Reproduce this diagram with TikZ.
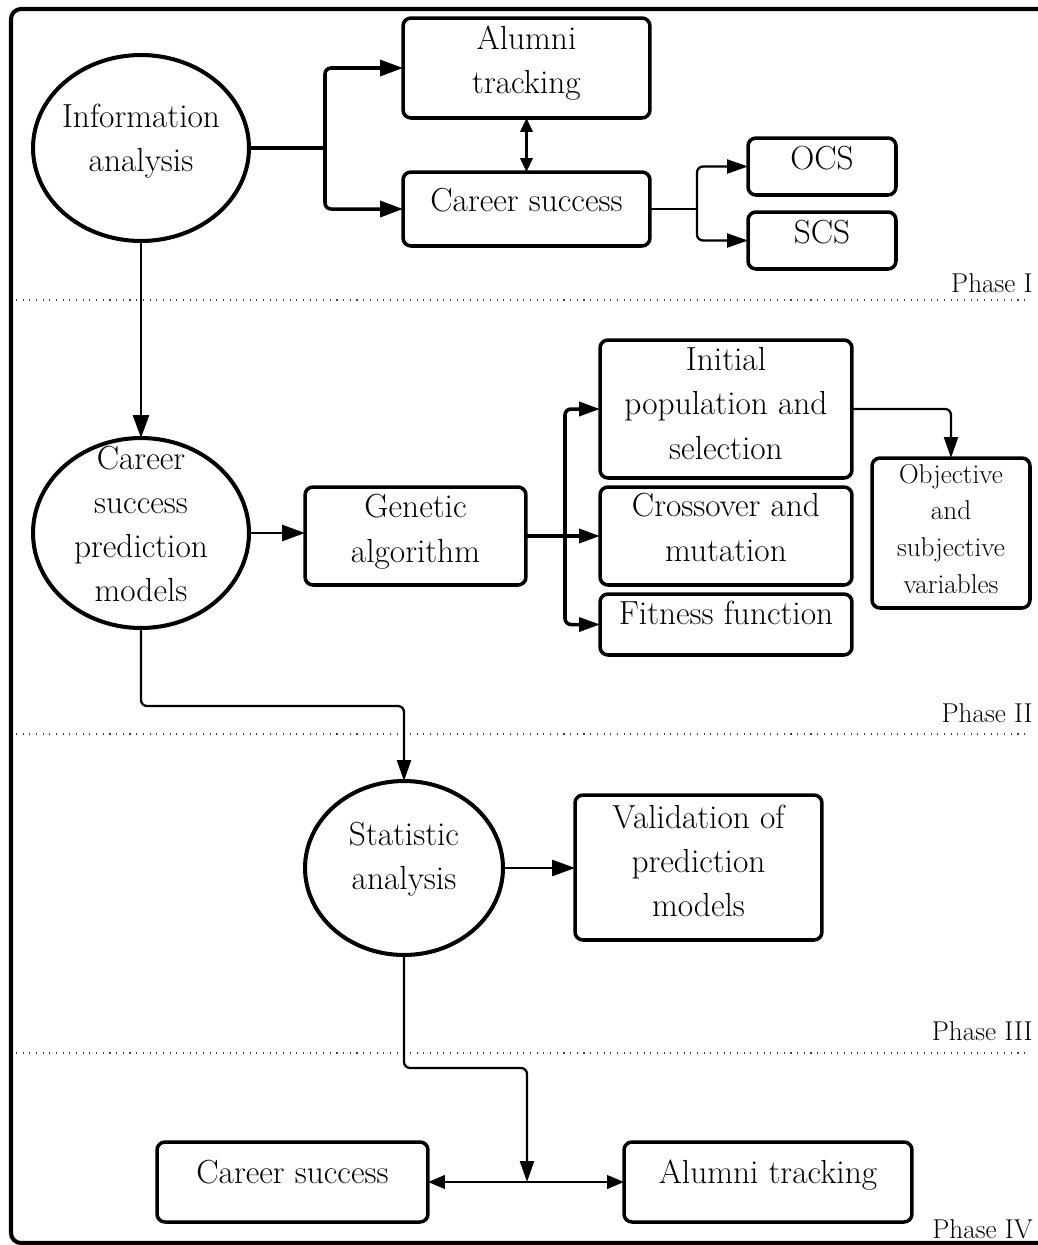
\documentclass[tikz,border=0pt]{standalone}
\usetikzlibrary{arrows.meta,shapes.geometric}
\newcommand{\dgmfont}{\fontsize{19}{25.2}\selectfont}
\newcommand{\dgmsmall}{\fontsize{15.5}{21}\selectfont}
\newcommand{\dgmphase}{\fontsize{15.5}{18}\selectfont}
\newcommand{\dgmup}[2][0.12cm]{\raisebox{#1}[\height][\depth]{\begin{tabular}{@{}c@{}}#2\end{tabular}}}
\begin{document}
\begin{tikzpicture}[x=0.02cm,y=-0.02cm,
  box/.style={draw, line width=2pt, rounded corners=0.16cm, inner sep=0pt, outer sep=0pt, align=center, font=\dgmfont},
  ell/.style={draw, ellipse, line width=2.3pt, inner sep=0pt, outer sep=0pt},
  txt/.style={align=center, font=\dgmfont, inner sep=0pt},
  thickc/.style={line width=2pt, rounded corners=0.12cm},
  thinc/.style={line width=1.3pt, rounded corners=0.12cm},
  tipbig/.style={-{Triangle[length=0.46cm,width=0.32cm]}},
  tipmid/.style={-{Triangle[length=0.42cm,width=0.28cm]}},
  tipsmall/.style={{Triangle[length=0.28cm,width=0.25cm]}-{Triangle[length=0.28cm,width=0.25cm]}},
  tipdbl/.style={{Triangle[length=0.34cm,width=0.27cm]}-{Triangle[length=0.34cm,width=0.27cm]}},
  sep/.style={line width=1.4pt, dash pattern=on 0.6pt off 3.2pt, black!75},
  phase/.style={anchor=base east, font=\dgmphase, inner sep=0pt}
]
\useasboundingbox (0,0) rectangle (1038,1245);
% frame
\draw[line width=2.3pt, rounded corners=0.2cm] (1100,9) -- (11,9) -- (11,1243) -- (1100,1243);

% phase separators
\draw[sep] (16,300) -- (1030,300);
\draw[sep] (16,734) -- (1030,734);
\draw[sep] (16,1053) -- (1030,1053);
\node[phase] (p1) at (1033,292) {Phase I};
\node[phase] (p2) at (1033,722) {Phase II};
\node[phase] (p3) at (1033,1040) {Phase III};
\node[phase] (p4) at (1033,1238) {Phase IV};

% Phase I
\node[ell, minimum width=4.32cm, minimum height=3.72cm] (info) at (141,148) {};
\node[txt] (infot) at (141,141) {Information\\analysis};
\node[box, minimum width=4.94cm, minimum height=2.0cm] (alum1) at (526.5,68) {\dgmup[0.1cm]{Alumni\\tracking}};
\node[box, minimum width=4.94cm, minimum height=1.48cm] (cs1) at (526.5,209) {\dgmup{Career success}};
\node[box, minimum width=2.96cm, minimum height=1.14cm] (ocs) at (822,166.5) {\dgmup{OCS}};
\node[box, minimum width=2.96cm, minimum height=1.14cm] (scs) at (822,240.5) {\dgmup{SCS}};

\coordinate (b1) at (325,148);
\draw[thickc] (info.east) -- (b1);
\draw[thickc, tipbig] (b1) |- (alum1.west);
\draw[thickc, tipbig] (b1) |- (cs1.west);
\draw[line width=1.3pt, tipsmall] (alum1.south) -- (cs1.north);
\coordinate (b2) at (697,209);
\draw[thinc] (cs1.east) -- (b2);
\draw[thinc, tipmid] (b2) |- (ocs.west);
\draw[thinc, tipmid] (b2) |- (scs.west);

% Phase II
\node[ell, minimum width=4.32cm, minimum height=3.8cm] (pred) at (141,533) {};
\node[txt] (predt) at (141,524) {Career\\success\\prediction\\models};
\node[box, minimum width=4.42cm, minimum height=1.96cm] (ga) at (415.5,536) {\dgmup[0.1cm]{Genetic\\algorithm}};
\node[box, minimum width=5.04cm, minimum height=2.76cm] (ini) at (726,409) {\dgmup[0.06cm]{Initial\\population and\\selection}};
\node[box, minimum width=5.04cm, minimum height=1.96cm] (cro) at (726,536) {\dgmup{Crossover and\\mutation}};
\node[box, minimum width=5.04cm, minimum height=1.22cm] (fit) at (726,624.5) {\dgmup[0.17cm]{Fitness function}};
\node[box, font=\dgmsmall, minimum width=3.16cm, minimum height=3.0cm] (obj) at (951,533) {\dgmup[0.04cm]{Objective\\and\\subjective\\variables}};

\draw[line width=1.6pt, tipbig] (info.south) -- (pred.north);
\draw[line width=1.6pt, tipbig] (pred.east) -- (pred.east -| ga.west);
\coordinate (b3) at (565,536);
\draw[thickc] (ga.east) -- (b3);
\draw[thickc, tipmid] (b3) |- (ini.west);
\draw[thickc, tipmid] (b3) -- (cro.west);
\draw[thickc, tipmid] (b3) |- (fit.west);
\draw[thinc, tipmid] (ini.east) -| (obj.north);

% Phase III
\node[ell, minimum width=3.96cm, minimum height=3.48cm] (stat) at (404,868) {};
\node[txt] (statt) at (404,859) {Statistic\\analysis};
\node[box, minimum width=4.94cm, minimum height=2.9cm] (val) at (698.5,867.5) {\dgmup[0.08cm]{Validation of\\prediction\\models}};
\draw[thinc, tipmid] (pred.south) -- (141,706) -| (stat.north);
\draw[line width=1.6pt, tipbig] (stat.east) -- (stat.east -| val.west);

% Phase IV
\node[box, minimum width=5.42cm, minimum height=1.6cm] (cs2) at (292.5,1182) {\dgmup[0.14cm]{Career success}};
\node[box, minimum width=5.76cm, minimum height=1.6cm] (al2) at (768,1182) {\dgmup[0.14cm]{Alumni tracking}};
\coordinate (j) at (527,1182);
\draw[thinc, tipmid] (stat.south) -- (404,1068) -| (j);
\draw[line width=1.5pt, tipdbl] (cs2.east) -- (al2.west);
\end{tikzpicture}
\end{document}
